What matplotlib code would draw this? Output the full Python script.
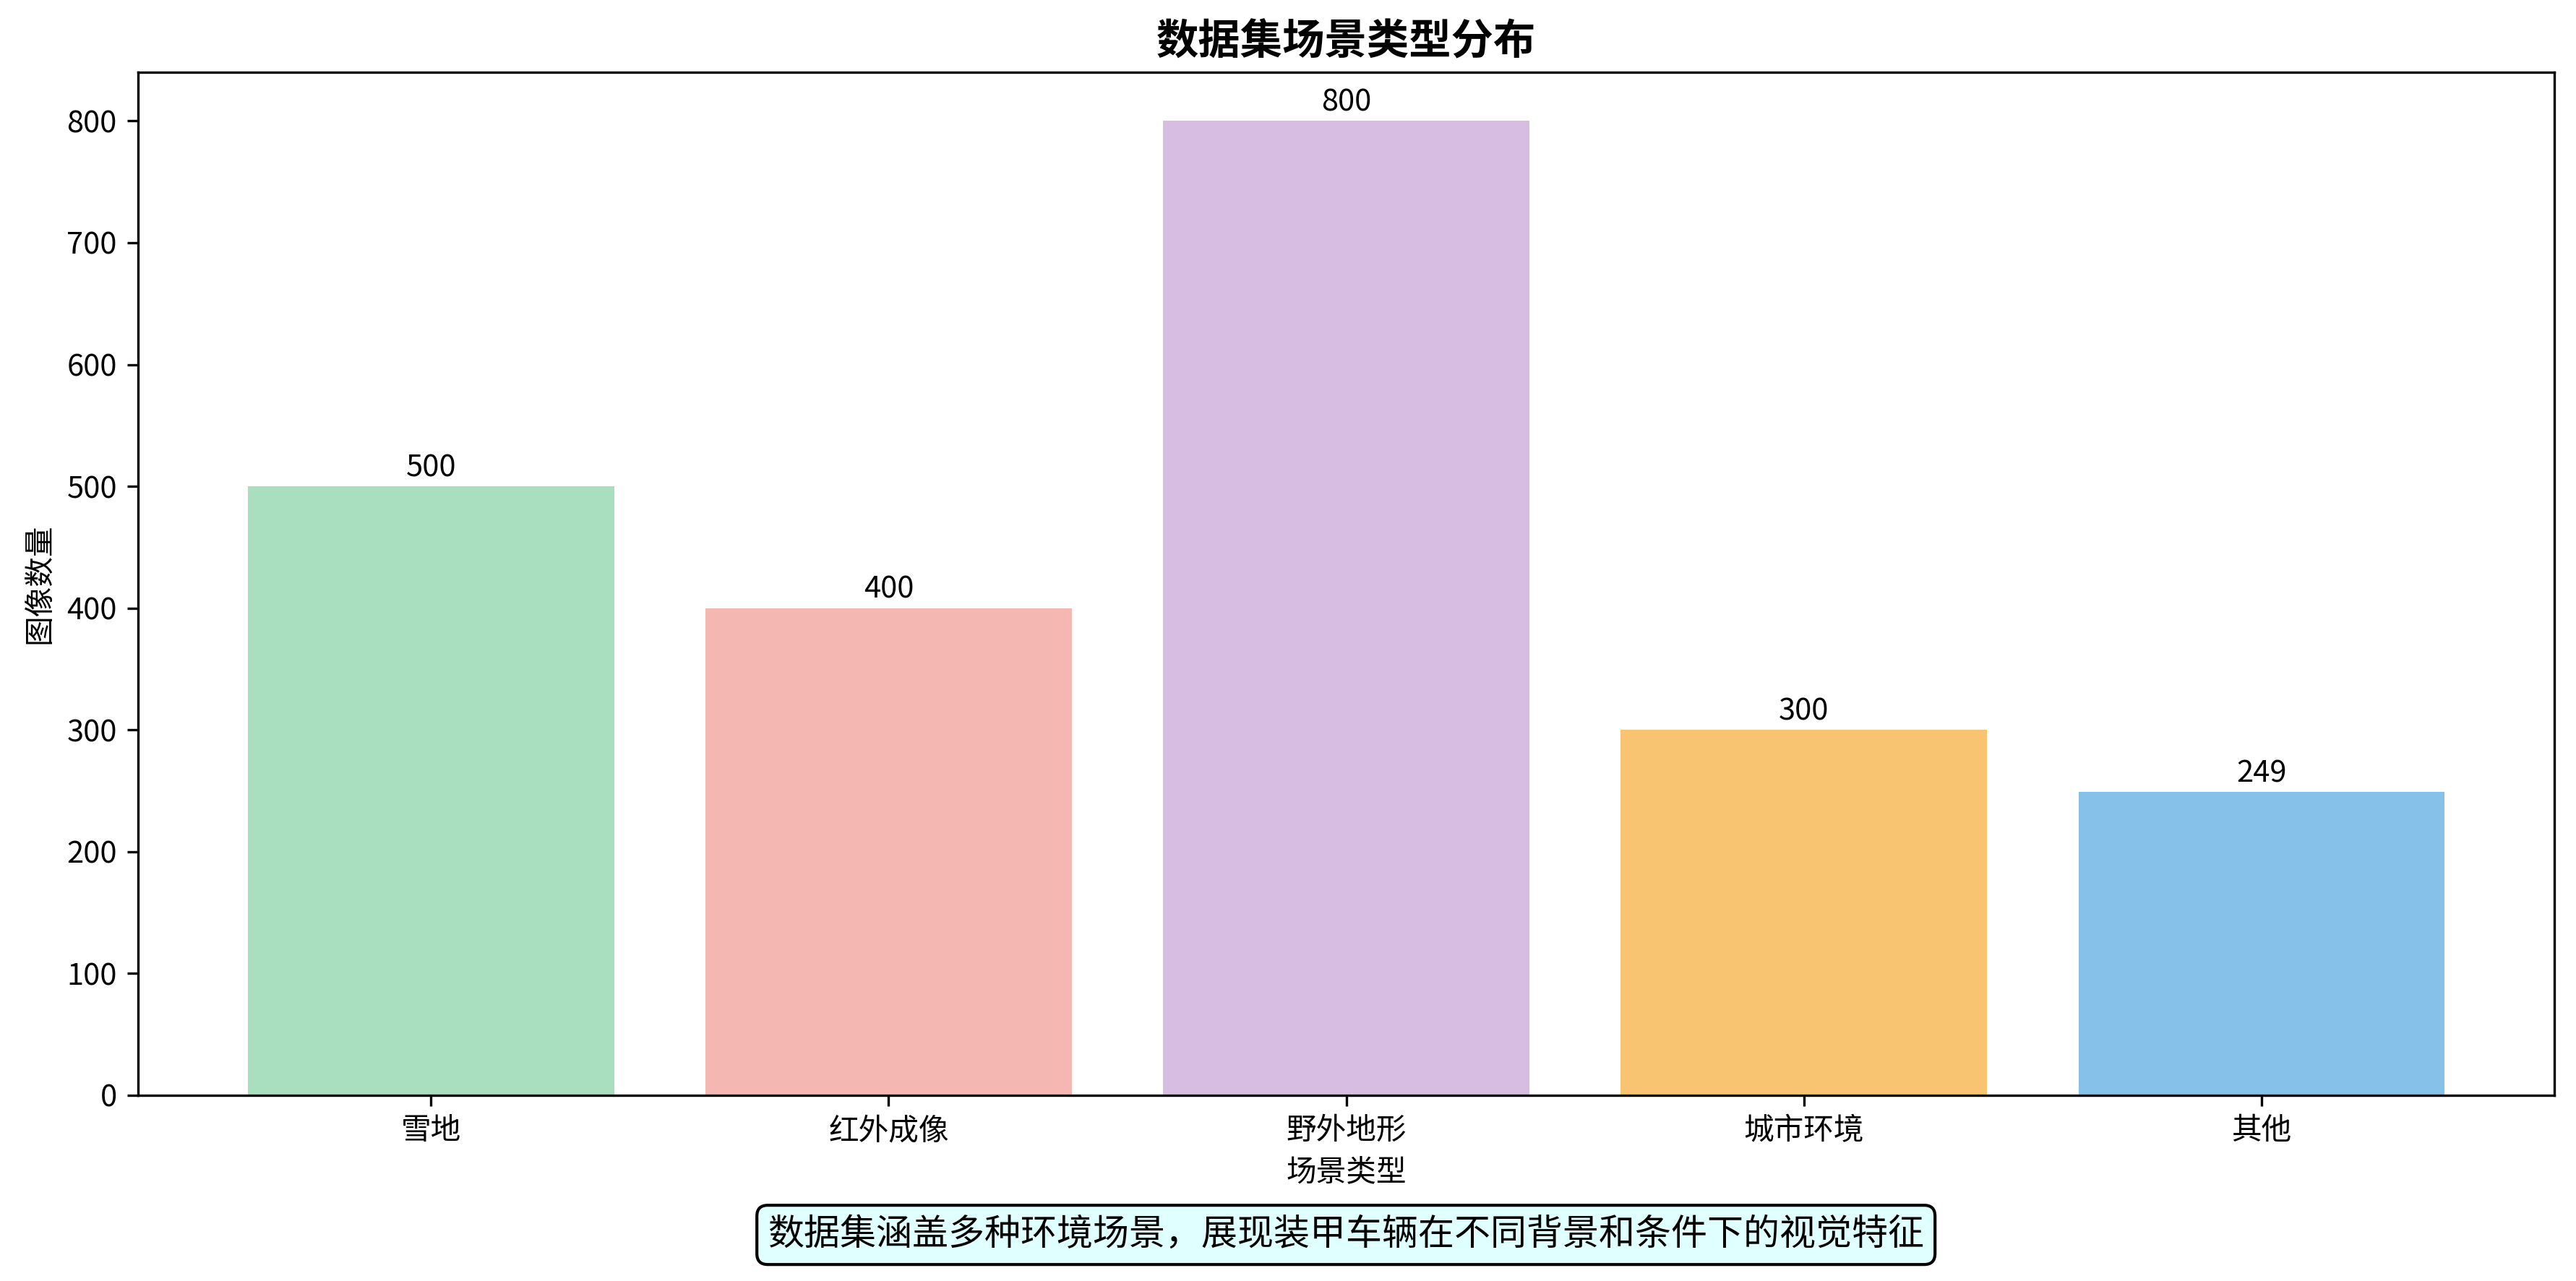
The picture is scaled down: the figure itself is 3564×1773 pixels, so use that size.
import matplotlib
matplotlib.use('Agg')
import matplotlib.pyplot as plt

plt.rcParams['font.family'] = ['Noto Sans CJK SC', 'DejaVu Sans']
plt.rcParams['axes.unicode_minus'] = False

# 数据
scenes = ['雪地', '红外成像', '野外地形', '城市环境', '其他']
counts = [500, 400, 800, 300, 249]
colors = ['#A9DFBF', '#F5B7B1', '#D7BDE2', '#F8C471', '#85C1E9']

fig = plt.figure(figsize=(11.88, 5.91), dpi=300)
ax = fig.add_axes([0.0536, 0.145, 0.938, 0.7986])

bars = ax.bar(scenes, counts, color=colors, width=0.8)
for b, v in zip(bars, counts):
    ax.text(b.get_x() + b.get_width() / 2, v + 3, str(v),
            ha='center', va='bottom', fontsize=10)

ax.set_title('数据集场景类型分布', fontsize=14, fontweight='bold')
ax.set_xlabel('场景类型', fontsize=10)
ax.set_ylabel('图像数量', fontsize=10)
ax.tick_params(labelsize=10)

fig.text(0.5225, 0.036, '数据集涵盖多种环境场景，展现装甲车辆在不同背景和条件下的视觉特征',
         ha='center', va='center', fontsize=12,
         bbox=dict(boxstyle='round,pad=0.3', facecolor='lightcyan', edgecolor='black'))

fig.savefig('out.png', dpi=300)
